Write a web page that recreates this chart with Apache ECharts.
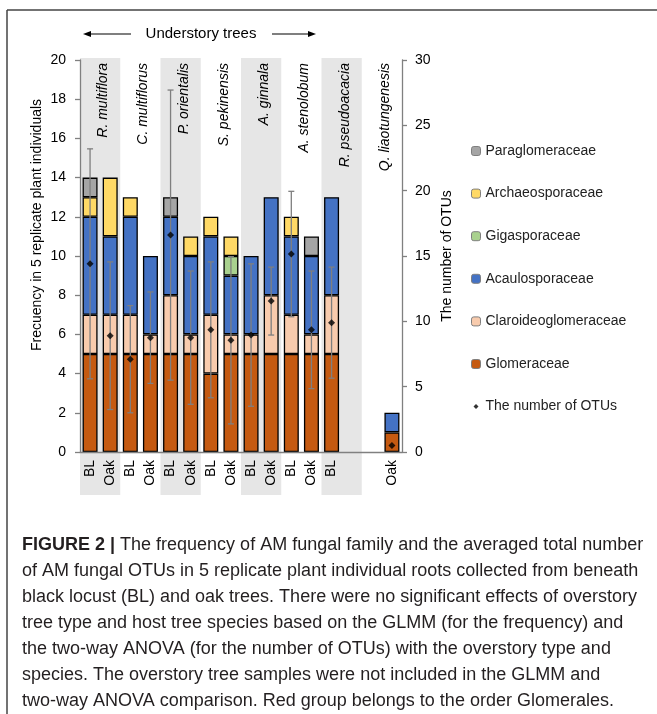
<!DOCTYPE html>
<html><head><meta charset="utf-8">
<script src="https://cdn.jsdelivr.net/npm/echarts@6/dist/echarts.min.js"></script>
<style>html,body{margin:0;padding:0;background:#fff}#c{width:657px;height:714px}</style>
</head><body><div id="c"></div>
<script>
// ---- data ----
var xLabels = ['BL','Oak','BL','Oak','BL','Oak','BL','Oak','BL','Oak','BL','Oak','BL','','','Oak'];
var species = ['R. multiflora','C. multiflorus','P. orientalis','S. pekinensis','A. ginnala','A. stenolobum','R. pseudoacacia','Q. liaotungenesis'];
var shadedGroups = [0, 2, 4, 6]; // indices into species pairs that get grey background
var glomeraceae        = [5,5,5,5,5,5,4,5,5,5,5,5,5,0,0,1];
var claroideoglomeraceae = [2,2,2,1,3,1,3,1,1,3,2,1,3,0,0,0];
var acaulosporaceae    = [5,4,5,4,4,4,4,3,4,5,4,4,5,0,0,1];
var gigasporaceae      = [0,0,0,0,0,0,0,1,0,0,0,0,0,0,0,0];
var archaeosporaceae   = [1,3,1,0,0,1,1,1,0,0,1,0,0,0,0,0];
var paraglomeraceae    = [1,0,0,0,1,0,0,0,0,0,0,1,0,0,0,0];
var otuMean = [14.4,8.9,7.1,8.75,16.6,8.75,9.35,8.55,8.95,11.55,15.15,9.35,9.9,null,null,0.5];
var otuErr  = [8.8,5.65,4.1,3.5,11.1,5.1,5.2,6.4,5.45,2.6,4.8,4.5,4.25,null,null,null];
var leftTicks = {min:0,max:20,interval:2};
var rightTicks = {min:0,max:30,interval:5};

var families = [
  {name:'Glomeraceae', data:glomeraceae, color:'#c55a11'},
  {name:'Claroideoglomeraceae', data:claroideoglomeraceae, color:'#f8cbad'},
  {name:'Acaulosporaceae', data:acaulosporaceae, color:'#4472c4'},
  {name:'Gigasporaceae', data:gigasporaceae, color:'#a9d18e'},
  {name:'Archaeosporaceae', data:archaeosporaceae, color:'#ffd966'},
  {name:'Paraglomeraceae', data:paraglomeraceae, color:'#a5a5a5'}
];

var FONT = 'Liberation Sans, Arial, sans-serif';
var chart = echarts.init(document.getElementById('c'));

var series = [];
// background bands
series.push({
  type:'custom', xAxisIndex:0, yAxisIndex:0, z:0, silent:true, clip:false,
  data: shadedGroups.map(function(g){return [g*2, 0];}),
  encode:{x:0,y:1},
  renderItem:function(params, api){
    var i = api.value(0);
    var w = api.size([1,0])[0];
    var p0 = api.coord([i,0]);
    var pTop = api.coord([i,20]);
    var x = p0[0]-w/2;
    return {type:'rect', shape:{x:x, y:pTop[1]-2, width:w*2, height:(p0[1]+43)-(pTop[1]-2)},
      style:{fill:'#e6e6e6'}};
  }
});
// species labels
series.push({
  type:'custom', xAxisIndex:0, yAxisIndex:0, z:1, silent:true, clip:false,
  data: species.map(function(s,k){return [k*2, 20];}),
  encode:{x:0,y:1},
  renderItem:function(params, api){
    var i = api.value(0);
    var w = api.size([1,0])[0];
    var p = api.coord([i,20]);
    return {type:'text', x:p[0]+w/2+3, y:p[1]+3, rotation:Math.PI/2,
      style:{text:species[params.dataIndex], textAlign:'right', textVerticalAlign:'middle',
        font:'italic 14px '+FONT, fill:'#000'}};
  }
});
families.forEach(function(f){
  series.push({
    name:f.name, type:'bar', stack:'freq', barWidth:15, z:2,
    data:f.data.map(function(v){return v>0?v:'-';}),
    itemStyle:{color:f.color, borderColor:'#000', borderWidth:1.3},
    emphasis:{disabled:true}
  });
});
// error bars
series.push({
  type:'custom', yAxisIndex:1, z:4, silent:true,
  data: otuMean.map(function(m,i){return (m!=null && otuErr[i]!=null)?[i,m,otuErr[i]]:null;}).filter(Boolean),
  encode:{x:0,y:1},
  renderItem:function(params, api){
    var i=api.value(0), m=api.value(1), e=api.value(2);
    var hi=api.coord([i,m+e]), lo=api.coord([i,m-e]);
    var c=3;
    var st={stroke:'#7f7f7f', lineWidth:1.3};
    return {type:'group', children:[
      {type:'line', shape:{x1:hi[0],y1:hi[1],x2:lo[0],y2:lo[1]}, style:st},
      {type:'line', shape:{x1:hi[0]-c,y1:hi[1],x2:hi[0]+c,y2:hi[1]}, style:st},
      {type:'line', shape:{x1:lo[0]-c,y1:lo[1],x2:lo[0]+c,y2:lo[1]}, style:st}
    ]};
  }
});
series.push({
  name:'The number of OTUs', type:'scatter', yAxisIndex:1, z:5,
  symbol:'diamond', symbolSize:7,
  itemStyle:{color:'#000'},
  data: otuMean.map(function(v){return v==null?'-':v;})
});

var caption = [
  '{b|FIGURE 2 |} The frequency of AM fungal family and the averaged total number',
  'of AM fungal OTUs in 5 replicate plant individual roots collected from beneath',
  'black locust (BL) and oak trees. There were no significant effects of overstory',
  'tree type and host tree species based on the GLMM (for the frequency) and',
  'the two-way ANOVA (for the number of OTUs) with the overstory type and',
  'species. The overstory tree samples were not included in the GLMM and',
  'two-way ANOVA comparison. Red group belongs to the order Glomerales.'
].join('\n');

var axisLineStyle = {color:'#808080', width:1.3};
var option = {
  animation:false,
  backgroundColor:'#fff',
  textStyle:{fontFamily:FONT},
  grid:{left:80, right:255, top:60, bottom:262, containLabel:false},
  legend:{
    orient:'vertical', left:466, top:139, itemGap:28.6, itemWidth:9, itemHeight:9,
    textStyle:{fontSize:14, color:'#222', fontFamily:FONT, lineHeight:14},
    selectedMode:false,
    itemStyle:{borderColor:'#7f7f7f', borderWidth:1},
    data:[
      {name:'Paraglomeraceae'},{name:'Archaeosporaceae'},{name:'Gigasporaceae'},
      {name:'Acaulosporaceae'},{name:'Claroideoglomeraceae'},{name:'Glomeraceae'},
      {name:'The number of OTUs', icon:'path://M0,0 M10,10 M5,2.2 L7.8,5 L5,7.8 L2.2,5 Z', itemStyle:{borderWidth:0, color:'#000'}}
    ]
  },
  xAxis:{
    type:'category', data:xLabels, z:3,
    axisLine:{lineStyle:axisLineStyle}, axisTick:{show:false},
    axisLabel:{rotate:90, fontSize:14, color:'#000', margin:8, interval:0, fontFamily:FONT}
  },
  yAxis:[
    {type:'value', min:leftTicks.min, max:leftTicks.max, interval:leftTicks.interval, z:3,
     splitLine:{show:false},
     axisLine:{show:true, lineStyle:axisLineStyle}, axisTick:{show:true, length:5, lineStyle:axisLineStyle},
     axisLabel:{fontSize:14, color:'#000', margin:14, fontFamily:FONT}},
    {type:'value', position:'right', min:rightTicks.min, max:rightTicks.max, interval:rightTicks.interval, z:3,
     name:'The number of OTUs', nameLocation:'middle', nameGap:38, nameRotate:90,
     nameTextStyle:{fontSize:14, color:'#000', fontFamily:FONT},
     splitLine:{show:false},
     axisLine:{show:true, lineStyle:axisLineStyle}, axisTick:{show:true, length:5, lineStyle:axisLineStyle},
     axisLabel:{fontSize:14, color:'#000', margin:13, fontFamily:FONT}}
  ],
  graphic:[
    {type:'line', shape:{x1:7,y1:10,x2:657,y2:10}, style:{stroke:'#444', lineWidth:1.5}},
    {type:'line', shape:{x1:7,y1:10,x2:7,y2:714}, style:{stroke:'#444', lineWidth:1.5}},
    {type:'text', x:37, y:225, rotation:Math.PI/2,
     style:{text:'Frecuency in 5 replicate plant individuals', textAlign:'center', textVerticalAlign:'middle', font:'14px '+FONT, fill:'#000'}},
    {type:'text', x:201, y:34, style:{text:'Understory trees', textAlign:'center', textVerticalAlign:'middle', font:'15px '+FONT, fill:'#000'}},
    {type:'line', shape:{x1:88,y1:34,x2:131,y2:34}, style:{stroke:'#000', lineWidth:1.2}},
    {type:'polygon', shape:{points:[[83,34],[91,31],[91,37]]}, style:{fill:'#000'}},
    {type:'line', shape:{x1:272,y1:34,x2:311,y2:34}, style:{stroke:'#000', lineWidth:1.2}},
    {type:'polygon', shape:{points:[[316,34],[308,31],[308,37]]}, style:{fill:'#000'}},
    {type:'text', x:22, y:532, style:{text:caption, font:'18px '+FONT, fill:'#231f20', lineHeight:26, textVerticalAlign:'top',
      rich:{b:{fontWeight:'bold', fontSize:18, fontFamily:FONT, fill:'#231f20', lineHeight:26}}}}
  ],
  series:series
};
chart.setOption(option);
</script></body></html>
